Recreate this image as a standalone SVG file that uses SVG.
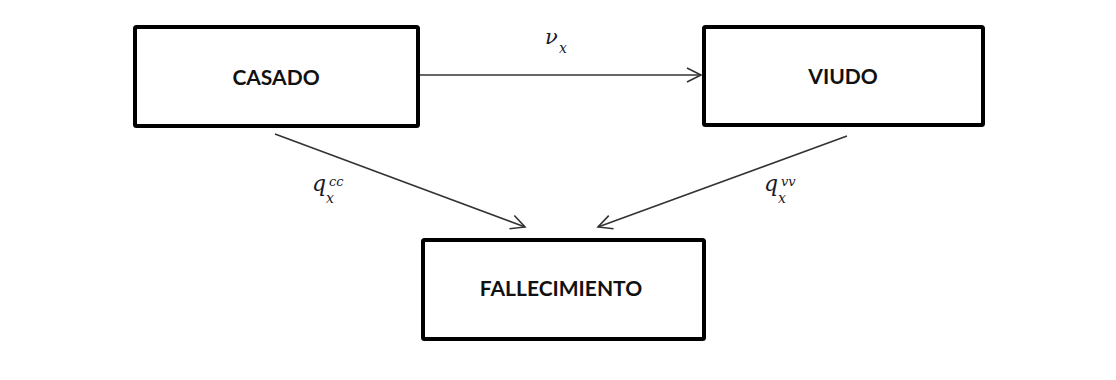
<svg xmlns="http://www.w3.org/2000/svg" width="1116" height="380" viewBox="0 0 1116 380">
<style>
.box{fill:#fff;stroke:#000;stroke-width:4}
.lbl{font-family:Lato,"Liberation Sans",sans-serif;font-weight:bold;font-size:21px;fill:#111;text-anchor:middle}
.conn{stroke:#333;stroke-width:1.6;fill:none}
.m{font-family:"DejaVu Serif","Liberation Serif",serif;font-style:italic;fill:#1a1a2a}
</style>
<defs>
<marker id="arr" markerUnits="userSpaceOnUse" markerWidth="18" markerHeight="18" viewBox="0 0 18 18" refX="16" refY="9" orient="auto">
<path d="M2,2 L16,9 L2,16" fill="none" stroke="#333" stroke-width="1.6"/>
</marker>
</defs>
<rect width="1116" height="380" fill="#fff"/>
<g id="connectors">
<line class="conn" x1="420" y1="75" x2="701" y2="75" marker-end="url(#arr)"/>
<line class="conn" x1="275" y1="134" x2="525" y2="227" marker-end="url(#arr)"/>
<line class="conn" x1="847" y1="136" x2="598" y2="227" marker-end="url(#arr)"/>
<text class="m"><tspan x="545" y="44" font-size="21">ν</tspan><tspan x="559" y="53" font-size="14">x</tspan></text>
<text class="m"><tspan x="312" y="191" font-size="22">q</tspan><tspan x="326" y="203" font-size="14">x</tspan><tspan x="329" y="186" font-size="13">cc</tspan></text>
<text class="m"><tspan x="764" y="191" font-size="22">q</tspan><tspan x="778" y="203" font-size="14">x</tspan><tspan x="781" y="186" font-size="13">vv</tspan></text>
</g>
<g id="casado">
<rect class="box" x="135" y="27" width="283" height="99" rx="1.5"/>
<text class="lbl" x="276" y="85">CASADO</text>
</g>
<g id="viudo">
<rect class="box" x="704" y="27" width="279" height="98" rx="1.5"/>
<text class="lbl" x="843" y="84">VIUDO</text>
</g>
<g id="fallecimiento">
<rect class="box" x="423" y="240" width="281" height="99" rx="1.5"/>
<text class="lbl" x="561" y="296">FALLECIMIENTO</text>
</g>
</svg>
